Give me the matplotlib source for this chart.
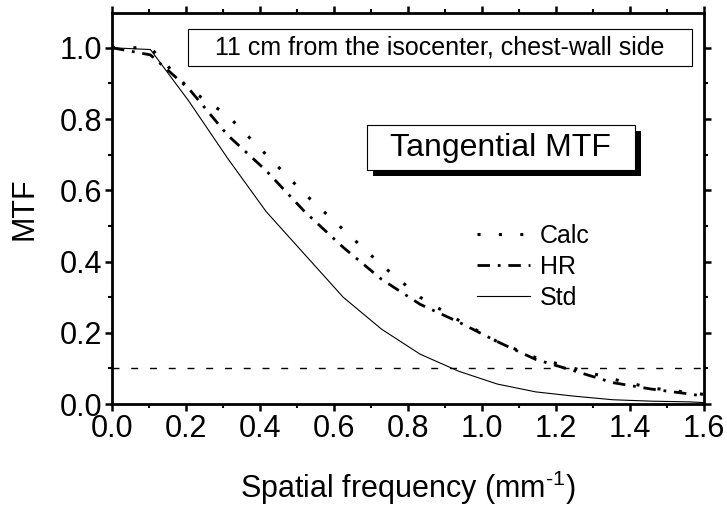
import numpy as np
import matplotlib.pyplot as plt
from matplotlib.patches import Rectangle
from matplotlib.ticker import MultipleLocator

plt.rcParams['font.family'] = ['Liberation Sans', 'DejaVu Sans']
plt.rcParams['mathtext.fontset'] = 'custom'
plt.rcParams['mathtext.rm'] = 'Liberation Sans'

# Spatial frequency grid (mm^-1)
freq = [0.0, 0.104, 0.208, 0.3125, 0.417, 0.521, 0.625, 0.729, 0.833,
        0.9375, 1.042, 1.146, 1.25, 1.354, 1.458, 1.5625, 1.6]

# MTF curves
mtf_calc = [1.0, 1.0, 0.885, 0.81, 0.70, 0.59, 0.49, 0.39, 0.30,
            0.235, 0.175, 0.13, 0.10, 0.07, 0.045, 0.032, 0.027]
mtf_hr = [1.0, 0.98, 0.885, 0.755, 0.655, 0.54, 0.44, 0.35, 0.28,
          0.23, 0.175, 0.125, 0.093, 0.06, 0.042, 0.028, 0.022]
mtf_std = [1.0, 0.995, 0.85, 0.69, 0.54, 0.42, 0.30, 0.21, 0.14,
           0.092, 0.056, 0.034, 0.022, 0.012, 0.008, 0.006, 0.004]

threshold = 0.1

fig = plt.figure(figsize=(7.27, 5.08), dpi=100)
ax = fig.add_axes([0.154, 0.2047, 0.814, 0.7693])

ax.plot(freq, mtf_calc, color='black', lw=2.2, linestyle=(0, (1, 6)),
        label='Calc')
ax.plot(freq, mtf_hr, color='black', lw=2.0, linestyle=(0, (4.5, 2.8, 1, 2.8)),
        label='HR')
ax.plot(freq, mtf_std, color='black', lw=0.8, label='Std')
ax.axhline(threshold, color='black', lw=1.0, linestyle=(0, (5, 8.5)))

ax.set_xlim(0, 1.6)
ax.set_ylim(0, 1.097)

ax.xaxis.set_major_locator(MultipleLocator(0.2))
ax.xaxis.set_minor_locator(MultipleLocator(0.1))
ax.yaxis.set_major_locator(MultipleLocator(0.2))
ax.yaxis.set_minor_locator(MultipleLocator(0.1))
ax.xaxis.set_major_formatter(lambda v, p: f"{v:.1f}")
ax.yaxis.set_major_formatter(lambda v, p: f"{v:.1f}")

ax.tick_params(which='both', direction='out', top=True, right=True,
               labeltop=False, labelright=False, labelsize=22)
ax.tick_params(which='major', length=5, width=1.8, pad=2)
ax.tick_params(which='minor', length=3, width=1.5)
for sp in ax.spines.values():
    sp.set_linewidth(2.0)

ax.set_xlabel(r'Spatial frequency (mm$^{\text{-1}}$)', fontsize=22,
              labelpad=18)
ax.set_ylabel('MTF', fontsize=22)
ax.yaxis.set_label_coords(-0.122, 0.5)

# Title-like boxes
ax.add_patch(Rectangle((0.1284, 0.8645), 0.8516, 0.0945, transform=ax.transAxes,
                       facecolor='white', edgecolor='black', lw=0.8, zorder=3))
ax.text(0.554, 0.912, '11 cm from the isocenter, chest-wall side',
        transform=ax.transAxes, ha='center', va='center', fontsize=18, zorder=4)

ax.add_patch(Rectangle((0.431 + 0.0101, 0.598 - 0.0153), 0.4524, 0.1156,
                       transform=ax.transAxes, facecolor='black',
                       edgecolor='black', lw=0, zorder=3))
ax.add_patch(Rectangle((0.431, 0.598), 0.4524, 0.1156, transform=ax.transAxes,
                       facecolor='white', edgecolor='black', lw=0.8, zorder=4))
ax.text(0.657, 0.656, 'Tangential MTF', transform=ax.transAxes,
        ha='center', va='center', fontsize=23, zorder=5)

ax.legend(loc='upper left', bbox_to_anchor=(0.617, 0.46), frameon=False,
          fontsize=18, handlelength=2.1, handletextpad=0.4, labelspacing=0.28,
          borderpad=0, borderaxespad=0)

fig.savefig('out.png', dpi=100)
